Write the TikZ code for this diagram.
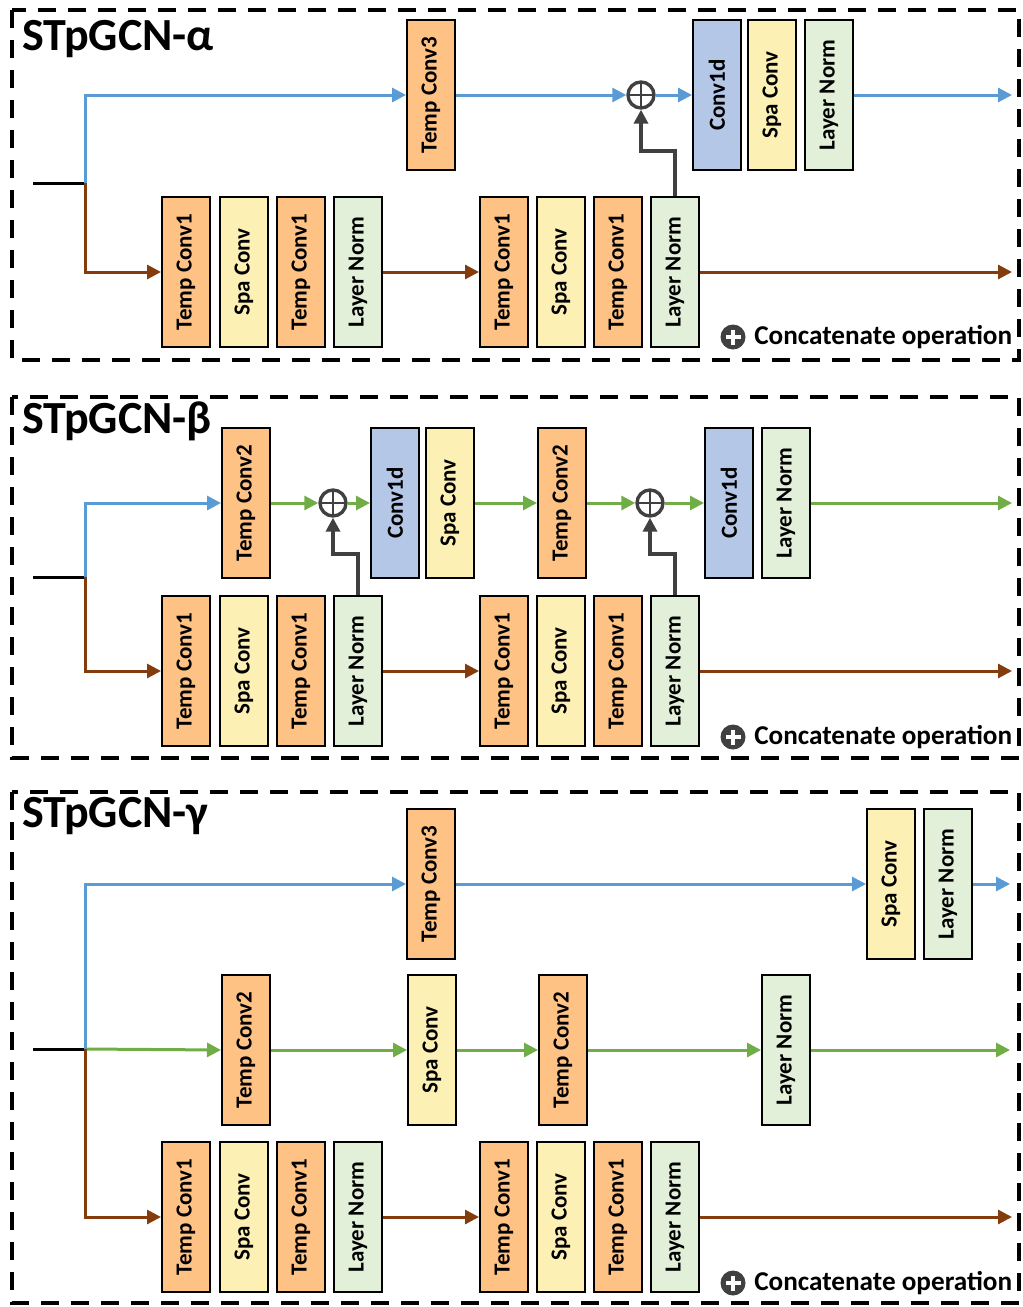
\documentclass[tikz,border=0pt]{standalone}
\usepackage{fontspec}
\setmainfont{Carlito}
\usepackage{graphicx}
\usetikzlibrary{arrows.meta,positioning,calc}
\definecolor{tempC}{HTML}{FFC285}
\definecolor{spaC}{HTML}{FCF0B5}
\definecolor{normC}{HTML}{E2EFD9}
\definecolor{convC}{HTML}{B4C7E7}
\definecolor{flowBlue}{HTML}{5B9BD5}
\definecolor{flowGreen}{HTML}{70AD47}
\definecolor{flowBrown}{HTML}{843C0C}
\definecolor{skipGray}{HTML}{404040}

\newcommand{\vtext}[1]{\rotatebox{90}{#1}}

\tikzset{
  blk/.style={draw=black, line width=1pt, minimum width=24pt, minimum height=75pt,
    inner sep=0pt, font=\fontsize{11.5}{12}\selectfont\bfseries},
  tempblk/.style={blk, fill=tempC},
  spablk/.style={blk, fill=spaC},
  normblk/.style={blk, fill=normC},
  convblk/.style={blk, fill=convC},
  flow/.style={line width=1.5pt, -{Triangle[length=7pt,width=7pt]}},
  blueflow/.style={flow, flowBlue},
  greenflow/.style={flow, flowGreen},
  brownflow/.style={flow, flowBrown},
  skipflow/.style={flow, skipGray, line width=2pt},
  inline/.style={line width=1.5pt, black},
  addop/.style={circle, draw=skipGray, line width=1.7pt, minimum size=13pt, inner sep=0pt,
    path picture={\draw[skipGray, line width=1.4pt]
      (path picture bounding box.north) -- (path picture bounding box.south)
      (path picture bounding box.west) -- (path picture bounding box.east);}},
  legendop/.style={circle, fill=skipGray, minimum size=12.5pt, inner sep=0pt,
    path picture={\draw[white, line width=1.6pt]
      ([yshift=-2.5pt]path picture bounding box.north) -- ([yshift=2.5pt]path picture bounding box.south)
      ([xshift=2.5pt]path picture bounding box.west) -- ([xshift=-2.5pt]path picture bounding box.east);}},
  panel/.style={draw=black, line width=2pt, dash pattern=on 9pt off 6pt},
  title/.style={anchor=base west, inner sep=0pt, font=\fontsize{23}{24}\selectfont\bfseries},
  legendtxt/.style={anchor=west, inner sep=0pt, font=\fontsize{13.6}{14}\selectfont\bfseries},
}

\begin{document}
\begin{tikzpicture}[x=0.5pt, y=-0.5pt]
  \useasboundingbox (0,0) rectangle (1023,1307);

  % ---------------- STpGCN-alpha ----------------
  \draw[panel] (12,10) rectangle (1019,360);
  \node[title] (ta) at (22,50) {STpGCN-α};
  \coordinate (srcA) at (33,183);
  \coordinate (jA) at (85,183);
  \draw[inline] (srcA) -- (jA);
  % upper branch
  \node[tempblk] (aT3) at (431,95) {\vtext{Temp Conv3}};
  \node[addop] (aAdd) at (641,95) {};
  \node[convblk] (aC1d) at (717,95) {\vtext{Conv1d}};
  \node[spablk] (aSpa) at (772,95) {\vtext{Spa Conv}};
  \node[normblk] (aLN) at (829,95) {\vtext{Layer Norm}};
  \coordinate (aOut) at (1012,95);
  % lower branch
  \node[tempblk] (aB1) at (186,272) {\vtext{Temp Conv1}};
  \node[spablk]  (aB2) at (244,272) {\vtext{Spa Conv}};
  \node[tempblk] (aB3) at (301,272) {\vtext{Temp Conv1}};
  \node[normblk] (aB4) at (358,272) {\vtext{Layer Norm}};
  \node[tempblk] (aB5) at (504,272) {\vtext{Temp Conv1}};
  \node[spablk]  (aB6) at (561,272) {\vtext{Spa Conv}};
  \node[tempblk] (aB7) at (618,272) {\vtext{Temp Conv1}};
  \node[normblk] (aB8) at (675,272) {\vtext{Layer Norm}};
  \coordinate (aBOut) at (1012,272);
  \draw[blueflow] (jA) |- (aT3.west);
  \draw[blueflow] (aT3.east) -- (aAdd.west);
  \draw[blueflow] (aAdd.east) -- (aC1d.west);
  \draw[blueflow] (aLN.east) -- (aOut);
  \draw[brownflow] (jA) |- (aB1.west);
  \draw[brownflow] (aB4.east) -- (aB5.west);
  \draw[brownflow] (aB8.east) -- (aBOut);
  \draw[skipflow] (aB8.north) -- ++(0,-45) -| (aAdd.south);
  \node[legendop] (aLeg) at (733,337) {};
  \node[legendtxt, right=4pt of aLeg] {Concatenate operation};

  % ---------------- STpGCN-beta ----------------
  \draw[panel] (12,397) rectangle (1019,758);
  \node[title] (tb) at (22,433) {STpGCN-β};
  \coordinate (srcB) at (33,577);
  \coordinate (jB) at (85,577);
  \draw[inline] (srcB) -- (jB);
  % upper branch
  \node[tempblk] (bT2a) at (246,503) {\vtext{Temp Conv2}};
  \node[addop] (bAdd1) at (333,503) {};
  \node[convblk] (bC1a) at (395,503) {\vtext{Conv1d}};
  \node[spablk] (bSpa) at (450,503) {\vtext{Spa Conv}};
  \node[tempblk] (bT2b) at (562,503) {\vtext{Temp Conv2}};
  \node[addop] (bAdd2) at (650,503) {};
  \node[convblk] (bC1b) at (729,503) {\vtext{Conv1d}};
  \node[normblk] (bLN) at (786,503) {\vtext{Layer Norm}};
  \coordinate (bOut) at (1012,503);
  % lower branch
  \node[tempblk] (bB1) at (186,671) {\vtext{Temp Conv1}};
  \node[spablk]  (bB2) at (244,671) {\vtext{Spa Conv}};
  \node[tempblk] (bB3) at (301,671) {\vtext{Temp Conv1}};
  \node[normblk] (bB4) at (358,671) {\vtext{Layer Norm}};
  \node[tempblk] (bB5) at (504,671) {\vtext{Temp Conv1}};
  \node[spablk]  (bB6) at (561,671) {\vtext{Spa Conv}};
  \node[tempblk] (bB7) at (618,671) {\vtext{Temp Conv1}};
  \node[normblk] (bB8) at (675,671) {\vtext{Layer Norm}};
  \coordinate (bBOut) at (1012,671);
  \draw[blueflow] (jB) |- (bT2a.west);
  \draw[greenflow] (bT2a.east) -- (bAdd1.west);
  \draw[greenflow] (bAdd1.east) -- (bC1a.west);
  \draw[greenflow] (bSpa.east) -- (bT2b.west);
  \draw[greenflow] (bT2b.east) -- (bAdd2.west);
  \draw[greenflow] (bAdd2.east) -- (bC1b.west);
  \draw[greenflow] (bLN.east) -- (bOut);
  \draw[brownflow] (jB) |- (bB1.west);
  \draw[brownflow] (bB4.east) -- (bB5.west);
  \draw[brownflow] (bB8.east) -- (bBOut);
  \draw[skipflow] (bB4.north) -- ++(0,-41) -| (bAdd1.south);
  \draw[skipflow] (bB8.north) -- ++(0,-41) -| (bAdd2.south);
  \node[legendop] (bLeg) at (733,737) {};
  \node[legendtxt, right=4pt of bLeg] {Concatenate operation};

  % ---------------- STpGCN-gamma ----------------
  \draw[panel] (12,792) rectangle (1019,1303);
  \node[title] (tg) at (22,827) {STpGCN-γ};
  \coordinate (srcG) at (33,1049);
  \coordinate (jG) at (85,1049);
  \draw[inline] (srcG) -- (jG);
  % upper branch
  \node[tempblk] (gT3) at (431,884) {\vtext{Temp Conv3}};
  \node[spablk] (gSpa) at (891,884) {\vtext{Spa Conv}};
  \node[normblk] (gLN) at (948,884) {\vtext{Layer Norm}};
  \coordinate (gOut) at (1010,884);
  % middle branch
  \node[tempblk] (gM1) at (246,1050) {\vtext{Temp Conv2}};
  \node[spablk] (gM2) at (432,1050) {\vtext{Spa Conv}};
  \node[tempblk] (gM3) at (563,1050) {\vtext{Temp Conv2}};
  \node[normblk] (gM4) at (786,1050) {\vtext{Layer Norm}};
  \coordinate (gMOut) at (1010,1050);
  % lower branch
  \node[tempblk] (gB1) at (186,1217) {\vtext{Temp Conv1}};
  \node[spablk]  (gB2) at (244,1217) {\vtext{Spa Conv}};
  \node[tempblk] (gB3) at (301,1217) {\vtext{Temp Conv1}};
  \node[normblk] (gB4) at (358,1217) {\vtext{Layer Norm}};
  \node[tempblk] (gB5) at (504,1217) {\vtext{Temp Conv1}};
  \node[spablk]  (gB6) at (561,1217) {\vtext{Spa Conv}};
  \node[tempblk] (gB7) at (618,1217) {\vtext{Temp Conv1}};
  \node[normblk] (gB8) at (675,1217) {\vtext{Layer Norm}};
  \coordinate (gBOut) at (1012,1217);
  \draw[blueflow] (jG) |- (gT3.west);
  \draw[blueflow] (gT3.east) -- (gSpa.west);
  \draw[blueflow] (gLN.east) -- (gOut);
  \draw[greenflow] (jG) -- (gM1.west);
  \draw[greenflow] (gM1.east) -- (gM2.west);
  \draw[greenflow] (gM2.east) -- (gM3.west);
  \draw[greenflow] (gM3.east) -- (gM4.west);
  \draw[greenflow] (gM4.east) -- (gMOut);
  \draw[brownflow] (jG) |- (gB1.west);
  \draw[brownflow] (gB4.east) -- (gB5.west);
  \draw[brownflow] (gB8.east) -- (gBOut);
  \node[legendop] (gLeg) at (733,1283) {};
  \node[legendtxt, right=4pt of gLeg] {Concatenate operation};
\end{tikzpicture}
\end{document}
